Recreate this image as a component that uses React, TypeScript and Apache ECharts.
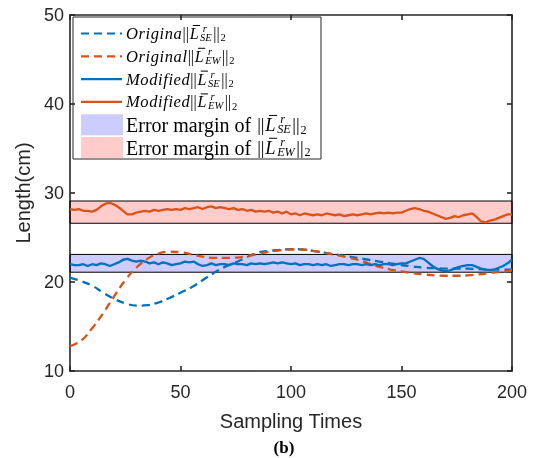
import React, { useEffect, useRef } from "react";
import * as echarts from "echarts";

// ---- data ----
const ORIG_STEP = 5; // sampling step of the dashed (original) curves
const ORIG_SE = [
  20.5, 20.1, 19.6, 18.8, 18.1, 17.6, 17.35, 17.4, 17.7, 18.2,
  18.8, 19.4, 20.2, 21.0, 21.7, 22.2, 22.8, 23.3, 23.5, 23.6,
  23.7, 23.65, 23.5, 23.3, 23.1, 22.9, 22.7, 22.5, 22.3, 22.1,
  21.9, 21.75, 21.6, 21.55, 21.5, 21.5, 21.5, 21.45, 21.4, 21.4,
  21.4,
];
const ORIG_EW = [
  12.8, 13.4, 14.8, 16.5, 18.4, 20.2, 21.6, 22.6, 23.2, 23.4,
  23.35, 23.1, 22.85, 22.7, 22.7, 22.75, 22.9, 23.15, 23.4, 23.55,
  23.65, 23.65, 23.5, 23.3, 23.05, 22.8, 22.5, 22.1, 21.7, 21.4,
  21.2, 21.0, 20.85, 20.75, 20.7, 20.7, 20.75, 20.85, 21.0, 21.15,
  21.3,
];
const MOD_STEP = 2; // sampling step of the solid (modified) curves
const MOD_SE = [
  22.0, 21.9, 21.9, 22.0, 21.8, 22.0,
  21.9, 22.1, 22.0, 21.8, 22.0,
  22.2, 22.5, 22.6, 22.4, 22.3,
  22.4, 22.3, 22.1, 22.2, 22.0, 22.2, 22.1, 21.9, 22.0, 22.1,
  22.3, 22.2, 22.3, 22.0, 21.8, 21.9, 22.1, 21.9, 22.0, 22.0,
  21.9, 22.1, 22.0, 22.0, 21.9, 22.1, 22.0, 22.1, 22.0, 22.1,
  22.2, 22.1, 22.2, 22.1, 22.0, 22.1, 21.9, 22.0, 22.0, 21.9,
  22.0, 21.9, 22.0, 21.8, 21.9, 22.0, 22.0, 21.9, 22.0, 22.0,
  21.9, 22.0, 21.9, 22.0, 21.9, 22.0, 22.0, 21.9, 22.0, 22.1,
  22.1, 22.3, 22.5, 22.7, 22.6,
  22.2, 21.8, 21.5, 21.3, 21.2, 21.3,
  21.5, 21.7, 21.8, 21.9, 21.9, 21.7,
  21.5, 21.4, 21.35, 21.4, 21.6, 21.8, 22.1, 22.5,
];
const MOD_EW = [
  28.2, 28.1, 28.2, 28.0, 28.0, 27.9,
  28.1, 28.5, 28.8, 28.9, 28.7,
  28.4, 28.0, 27.6, 27.6, 27.8,
  27.9, 28.0, 27.9, 28.1, 28.0, 28.1, 28.2, 28.1, 28.2, 28.1,
  28.3, 28.2, 28.3, 28.4, 28.2, 28.4, 28.5, 28.3, 28.4, 28.3,
  28.2, 28.3, 28.1, 28.2, 28.0, 28.1, 27.9, 28.0, 27.9, 28.0,
  27.8, 27.9, 27.7, 27.9, 27.6, 27.7, 27.5, 27.7, 27.6, 27.5,
  27.6, 27.5, 27.7, 27.6, 27.5, 27.6, 27.4, 27.5, 27.6, 27.5,
  27.6, 27.7, 27.6, 27.7, 27.8, 27.7, 27.8, 27.7, 27.8, 27.8,
  28.0, 28.2, 28.3, 28.2, 28.0,
  27.9, 27.7, 27.5, 27.3, 27.1, 27.2,
  27.4, 27.3, 27.5, 27.6, 27.7, 27.3,
  26.8, 26.7, 26.9, 27.0, 27.2, 27.4, 27.6, 27.6,
];
const SE_BAND = [21.1, 23.1];
const EW_BAND = [26.6, 29.1];
const X_RANGE = [0, 200];
const Y_RANGE = [10, 50];
const X_LABEL = "Sampling Times";
const Y_LABEL = "Length(cm)";
const SUB_LABEL = "(b)";

const BLUE = "#0072BD";
const ORANGE = "#D95319";
const AXIS = "#262626";
const SANS = '"Liberation Sans", Arial, Helvetica, sans-serif';
const SERIF = '"Liberation Serif", "Times New Roman", serif';

let measureCtx: CanvasRenderingContext2D | null = null;
function mw(text: string, font: string): number {
  if (!measureCtx) measureCtx = document.createElement("canvas").getContext("2d");
  if (!measureCtx) return text.length * 8;
  measureCtx.font = font;
  return measureCtx.measureText(text).width;
}

function mathRow(
  x0: number, yc: number, prefix: string, prefixItalic: boolean, sub: string,
  F: number, PF: number, spacing: number
): any[] {
  const els: any[] = [];
  const FS = F * 0.66;
  let x = x0;
  const put = (text: string, italic: boolean, size: number, dy: number, px: number, lh?: number) => {
    const font = `${italic ? "italic " : ""}${size}px ${SERIF}`;
    els.push({
      type: "text",
      x: px,
      y: yc + dy,
      style: { text, font, fill: "#000", verticalAlign: "middle", align: "left", lineHeight: lh || size * 0.8 },
    });
    return Math.max(...text.split("\n").map((t) => mw(t, font)));
  };
  if (prefixItalic) {
    for (const ch of prefix) x += put(ch, true, PF, 0, x) + spacing;
  } else {
    x += put(prefix, false, PF, 0, x) + PF * 0.3;
  }
  x += put("||", false, F, 0, x) + 0.8;
  const lw = put("L", true, F, 0, x);
  els.push({
    type: "line",
    shape: { x1: x + F * 0.2, y1: yc - F * 0.5, x2: x + lw + 1.5, y2: yc - F * 0.5 },
    style: { stroke: "#000", lineWidth: 1 },
  });
  x += lw + 1.5;
  // stacked superscript r over subscript
  const sw = put(" r\n" + sub, true, FS, -F * 0.03, x, F * 0.56);
  x += sw + 1.5;
  x += put("||", false, F, 0, x) + 0.8;
  put("2", false, FS, F * 0.27, x);
  return els;
}

function buildLegend(): any[] {
  const bx = 73, by = 17, bw = 248, bh = 142;
  const lx1 = 81, lx2 = 122, tx = 126;
  const rowY = (i: number) => 33.5 + 22.8 * i;
  const children: any[] = [
    { type: "rect", shape: { x: bx, y: by, width: bw, height: bh }, style: { fill: "#fff", stroke: AXIS, lineWidth: 1 } },
  ];
  const rows = [
    { kind: "line", color: BLUE, dash: [8, 5], prefix: "Origina", it: true, sub: "SE" },
    { kind: "line", color: ORANGE, dash: [8, 5], prefix: "Original", it: true, sub: "EW" },
    { kind: "line", color: BLUE, dash: null, prefix: "Modified", it: true, sub: "SE" },
    { kind: "line", color: ORANGE, dash: null, prefix: "Modified", it: true, sub: "EW" },
    { kind: "rect", color: "rgb(204,204,255)", prefix: "Error margin of", it: false, sub: "SE" },
    { kind: "rect", color: "rgb(255,204,204)", prefix: "Error margin of", it: false, sub: "EW" },
  ];
  rows.forEach((r, i) => {
    const y = rowY(i);
    if (r.kind === "line") {
      children.push({
        type: "line",
        shape: { x1: lx1, y1: y, x2: lx2, y2: y },
        style: { stroke: r.color, lineWidth: 2.2, lineDash: r.dash || undefined },
      });
    } else {
      children.push({
        type: "rect",
        shape: { x: lx1, y: y - 10.5, width: lx2 - lx1 + 1, height: 21 },
        style: { fill: r.color },
      });
    }
    if (r.it) children.push(...mathRow(tx, y, r.prefix, true, r.sub, 16, 16.5, 0.6));
    else children.push(...mathRow(tx, y, r.prefix, false, r.sub, 18.5, 20, 0));
  });
  return [{ type: "group", z: 100, children }];
}

function bandSeries(band: number[], color: string) {
  return {
    type: "line",
    data: [],
    z: 5,
    silent: true,
    markArea: {
      silent: true,
      label: { show: false },
      itemStyle: { color, borderColor: "#000", borderWidth: 1, opacity: 1 },
      data: [[{ coord: [X_RANGE[0], band[0]] }, { coord: [X_RANGE[1], band[1]] }]],
    },
  };
}

export default function App() {
  const ref = useRef<HTMLDivElement>(null);
  useEffect(() => {
    if (!ref.current) return;
    const chart = echarts.init(ref.current, undefined, { renderer: "svg" });
    const axisLine = { show: true, onZero: false, lineStyle: { color: AXIS, width: 1.6 } };
    const axisTick = { show: true, inside: true, length: 5, lineStyle: { color: AXIS, width: 1.6 } };
    const labelStyle = { fontFamily: SANS, fontSize: 18, color: AXIS };
    const option: any = {
      animation: false,
      grid: { left: 70, right: 29, top: 15, bottom: 87 },
      xAxis: [
        {
          type: "value", min: X_RANGE[0], max: X_RANGE[1], interval: 50,
          axisLine, axisTick, splitLine: { show: false },
          axisLabel: { ...labelStyle, margin: 12 },
          name: X_LABEL, nameLocation: "middle", nameGap: 40,
          nameTextStyle: { fontFamily: SANS, fontSize: 20, color: AXIS },
        },
        {
          type: "value", position: "top", min: X_RANGE[0], max: X_RANGE[1], interval: 50,
          axisLine, axisTick, splitLine: { show: false }, axisLabel: { show: false },
        },
      ],
      yAxis: [
        {
          type: "value", min: Y_RANGE[0], max: Y_RANGE[1], interval: 10,
          axisLine, axisTick, splitLine: { show: false },
          axisLabel: { ...labelStyle, margin: 6 },
          name: Y_LABEL, nameLocation: "middle", nameGap: 35,
          nameTextStyle: { fontFamily: SANS, fontSize: 20, color: AXIS },
        },
        {
          type: "value", position: "right", min: Y_RANGE[0], max: Y_RANGE[1], interval: 10,
          axisLine, axisTick, splitLine: { show: false }, axisLabel: { show: false },
        },
      ],
      series: [
        {
          type: "line", name: "orig SE", smooth: 0.4, symbol: "none", z: 2,
          data: ORIG_SE.map((v, i) => [i * ORIG_STEP, v]),
          lineStyle: { color: BLUE, width: 2.3, type: [8, 5] },
        },
        {
          type: "line", name: "orig EW", smooth: 0.4, symbol: "none", z: 2,
          data: ORIG_EW.map((v, i) => [i * ORIG_STEP, v]),
          lineStyle: { color: ORANGE, width: 2.3, type: [8, 5] },
        },
        {
          type: "line", name: "mod SE", symbol: "none", z: 3,
          data: MOD_SE.map((v, i) => [i * MOD_STEP, v]),
          lineStyle: { color: BLUE, width: 2.3 },
        },
        {
          type: "line", name: "mod EW", symbol: "none", z: 3,
          data: MOD_EW.map((v, i) => [i * MOD_STEP, v]),
          lineStyle: { color: ORANGE, width: 2.3 },
        },
        bandSeries(SE_BAND, "rgba(0,0,255,0.2)"),
        bandSeries(EW_BAND, "rgba(255,0,0,0.2)"),
      ],
      graphic: [
        ...buildLegend(),
        {
          type: "text", x: 284, y: 447, z: 100,
          style: { text: SUB_LABEL, font: `bold 17px ${SERIF}`, fill: "#000", align: "center", verticalAlign: "middle" },
        },
      ],
    };
    chart.setOption(option);
    return () => chart.dispose();
  }, []);
  return <div ref={ref} style={{ position: "fixed", left: 0, top: 0, width: 541, height: 458 }} />;
}
